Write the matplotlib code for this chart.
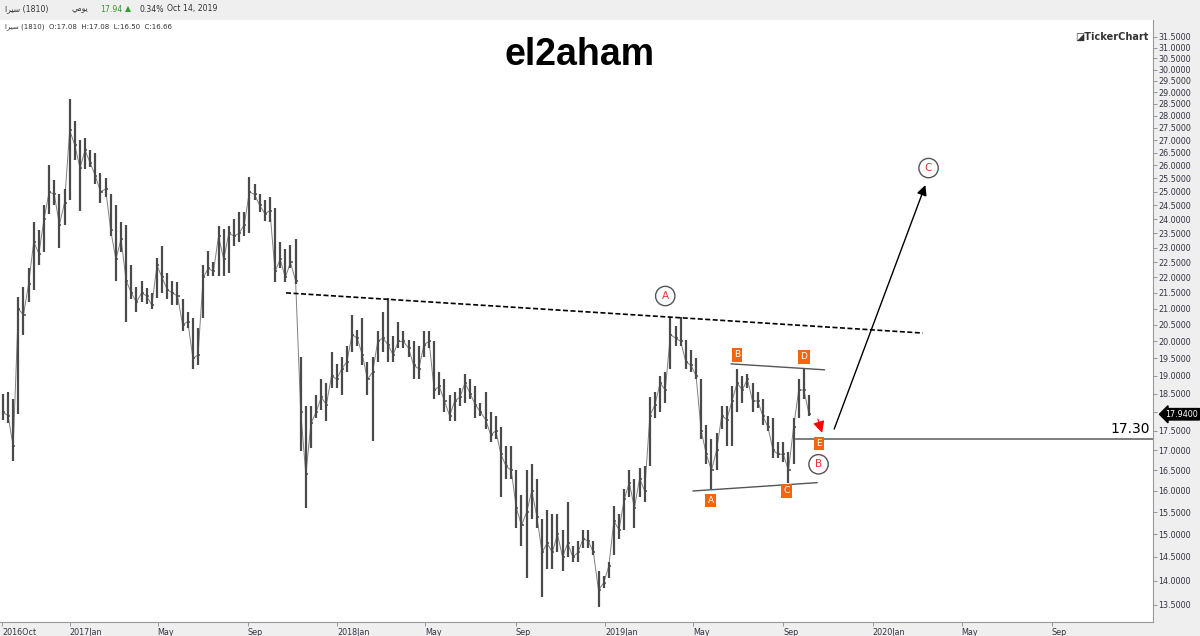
#!/usr/bin/env python3
# el2aham - weekly OHLC bars with wave annotations (TickerChart style)

import numpy as np
import pandas as pd
import matplotlib
matplotlib.use('Agg')
import matplotlib.pyplot as plt
import matplotlib.dates as mdates
from matplotlib.ticker import FixedLocator, NullLocator, FuncFormatter

# ---------------------------------------------------------------------------
# Data (weekly bars)
# ---------------------------------------------------------------------------
first_week = '2016-10-02'

high = [18.5, 18.55, 18.36, 21.36, 21.7, 22.3, 23.9, 23.6, 24.5, 26.0,
        25.45, 24.9, 25.1, 28.7, 27.8, 27.0, 27.1, 26.6, 26.5, 25.7,
        25.5, 24.9, 24.5, 23.9, 23.8, 22.4, 21.7, 21.9, 21.65, 21.5,
        22.65, 23.05, 22.15, 21.9, 21.85, 21.3, 20.9, 20.7, 20.4, 22.4,
        22.9, 22.5, 23.75, 23.65, 23.75, 24.0, 24.25, 24.25, 25.55, 25.3,
        24.9, 24.7, 24.8, 24.4, 23.2, 22.95, 23.1, 23.3, 19.55, 18.15,
        18.15, 18.45, 18.9, 18.8, 19.7, 19.35, 19.55, 19.85, 20.8, 20.35,
        20.7, 19.4, 19.55, 20.3, 20.9, 21.35, 20.15, 20.6, 20.3, 20.05,
        20.0, 19.85, 20.3, 20.3, 20.0, 19.1, 18.9, 18.45, 18.55, 18.65,
        19.05, 18.9, 18.7, 18.25, 18.55, 18.0, 17.9, 17.6, 17.1, 17.1,
        16.5, 15.9, 16.5, 16.65, 16.3, 15.35, 15.55, 15.45, 15.45, 15.1,
        15.75, 14.75, 14.85, 15.1, 15.1, 14.85, 14.2, 14.1, 14.4, 15.65,
        15.45, 16.05, 16.5, 16.3, 16.55, 16.6, 18.4, 18.55, 19.0, 19.1,
        20.75, 20.45, 20.75, 20.05, 19.75, 19.5, 18.9, 17.65, 17.3, 17.45,
        18.15, 18.15, 18.7, 19.2, 19.0, 19.05, 18.8, 18.55, 18.35, 17.9,
        17.85, 17.2, 17.2, 16.95, 17.85, 18.9, 19.2, 18.45]

low = [17.8, 17.7, 16.73, 17.96, 20.2, 21.2, 21.6, 22.4, 22.85, 24.2,
       24.5, 23.0, 23.8, 24.7, 26.2, 24.3, 25.85, 25.95, 25.3, 24.6,
       24.8, 23.4, 21.9, 22.85, 20.6, 21.3, 20.9, 21.2, 21.15, 21.0,
       21.35, 21.5, 21.3, 21.1, 21.1, 20.3, 20.4, 19.2, 19.3, 20.7,
       22.05, 22.05, 22.05, 22.05, 22.15, 23.05, 23.2, 23.4, 23.5, 24.7,
       24.25, 23.95, 23.9, 21.85, 22.3, 21.85, 22.3, 21.8, 16.98, 15.6,
       17.05, 17.85, 18.05, 17.75, 18.65, 18.65, 18.45, 19.1, 19.7, 19.85,
       19.3, 18.45, 17.25, 19.4, 19.7, 19.4, 19.4, 19.8, 19.8, 19.55,
       18.9, 18.9, 19.55, 19.8, 18.35, 18.45, 18.0, 17.75, 17.75, 18.15,
       18.25, 18.35, 17.85, 17.9, 17.55, 17.2, 17.3, 15.85, 16.3, 16.3,
       15.15, 14.75, 14.05, 15.35, 15.15, 13.65, 14.25, 14.25, 14.6, 14.2,
       14.5, 14.4, 14.4, 14.7, 14.7, 14.55, 13.45, 13.85, 14.05, 14.55,
       14.9, 15.1, 15.85, 15.15, 15.85, 15.75, 16.6, 17.85, 18.0, 18.25,
       19.2, 19.85, 19.85, 19.2, 19.1, 18.9, 17.3, 16.65, 16.05, 16.5,
       17.55, 17.1, 17.1, 18.0, 18.25, 18.65, 18.0, 18.1, 17.65, 17.5,
       16.8, 16.8, 16.7, 16.2, 16.65, 17.85, 18.35, 17.9]

close = [18.0, 17.9, 17.1, 21.0, 20.8, 21.8, 23.2, 22.8, 24.0, 25.0,
         24.9, 23.8, 24.6, 27.4, 26.8, 25.9, 26.6, 26.1, 25.6, 25.0,
         25.1, 23.6, 22.6, 23.3, 21.9, 21.5, 21.2, 21.5, 21.4, 21.1,
         22.4, 22.0, 21.6, 21.5, 21.4, 20.5, 20.6, 19.5, 19.6, 22.0,
         22.3, 22.2, 23.4, 22.6, 23.5, 23.4, 23.5, 23.8, 25.0, 24.9,
         24.5, 24.2, 24.3, 22.2, 22.6, 22.0, 22.5, 21.9, 18.0, 16.4,
         17.7, 18.0, 18.4, 18.2, 19.0, 18.9, 19.2, 19.4, 20.2, 20.1,
         19.6, 18.9, 19.1, 20.0, 20.1, 19.9, 19.6, 20.0, 20.0, 19.8,
         19.3, 19.2, 19.9, 20.0, 18.6, 18.7, 18.3, 17.9, 18.3, 18.4,
         18.8, 18.5, 18.2, 18.0, 17.8, 17.4, 17.5, 16.9, 16.6, 16.5,
         15.6, 15.2, 15.5, 16.0, 15.4, 14.6, 14.8, 14.6, 15.0, 14.5,
         14.8, 14.5, 14.6, 14.9, 14.85, 14.6, 13.8, 13.95, 14.3, 15.3,
         15.1, 15.8, 16.2, 15.6, 16.3, 16.0, 17.9, 18.2, 18.8, 18.6,
         20.2, 20.1, 20.0, 19.4, 19.3, 19.0, 17.5, 16.9, 16.5, 17.0,
         17.9, 17.8, 18.3, 18.8, 18.6, 18.9, 18.3, 18.3, 17.9, 17.6,
         17.0, 16.9, 16.9, 16.5, 17.6, 18.6, 18.6, 17.94]

last_price = 17.94
support_level = 17.30

tick_dates = ['2016-10-01', '2017-01-01', '2017-05-01', '2017-09-01',
              '2018-01-01', '2018-05-01', '2018-09-01', '2019-01-01',
              '2019-05-01', '2019-09-01', '2020-01-01', '2020-05-01',
              '2020-09-01']
tick_labels = ['2016Oct', '2017Jan', 'May', 'Sep', '2018Jan', 'May', 'Sep',
               '2019Jan', 'May', 'Sep', '2020Jan', 'May', 'Sep']

# resistance (dashed) and triangle lines: (date, price) end points
resistance = [('2017-10-23', 21.5), ('2020-03-09', 20.25)]
tri_upper = [('2019-06-22', 19.34), ('2019-10-27', 19.17)]
tri_lower = [('2019-05-01', 16.0), ('2019-10-17', 16.2)]

# small orange triangle wave labels
tri_labels = ['A', 'B', 'C', 'D', 'E']
tri_label_dates = ['2019-05-25', '2019-06-30', '2019-09-05', '2019-09-29', '2019-10-20']
tri_label_prices = [15.78, 19.6, 16.0, 19.54, 17.17]

# circled waves
wave_labels = ['A', 'B', 'C']
wave_dates = ['2019-03-24', '2019-10-19', '2020-03-17']
wave_prices = [21.4, 16.65, 25.9]

# arrows: start -> end
red_arrow = [('2019-10-17', 17.88), ('2019-10-25', 17.38)]
black_arrow = [('2019-11-08', 17.48), ('2020-03-14', 25.35)]

# ---------------------------------------------------------------------------
W, H = 1200, 636
fig = plt.figure(figsize=(W / 100, H / 100), dpi=100, facecolor='#efefef')
ax = fig.add_axes([0, (H - 622) / H, 1153 / W, (622 - 20) / H])
ax.set_facecolor('white')


def d(s):
    return mdates.date2num(pd.Timestamp(s))


weeks = mdates.date2num(pd.date_range(first_week, periods=len(high), freq='7D'))

bar_color = '#4a4a4a'
ax.vlines(weeks, low, high, color=bar_color, lw=1.6)
ax.hlines(close, weeks, weeks + 2.8, color=bar_color, lw=1.1)
ax.plot(weeks, close, color=bar_color, lw=0.7, alpha=0.7)

# resistance line
ax.plot([d(p[0]) for p in resistance], [p[1] for p in resistance],
        color='black', ls=(0, (3, 1.5)), lw=1.2)

# triangle boundaries
for seg in (tri_upper, tri_lower):
    ax.plot([d(p[0]) for p in seg], [p[1] for p in seg], color='#555555', lw=1.0)

# 17.30 level
ax.plot([d('2019-09-18'), d('2021-01-17')], [support_level, support_level],
        color='#666666', lw=1.2)
ax.text(0.997, support_level * 1.004, f'{support_level:.2f}', transform=ax.get_yaxis_transform(),
        ha='right', va='bottom', fontsize=10, color='black')

# arrows
ax.annotate('', xy=(d(red_arrow[1][0]), red_arrow[1][1]),
            xytext=(d(red_arrow[0][0]), red_arrow[0][1]),
            arrowprops=dict(arrowstyle='-|>,head_length=0.7,head_width=0.35',
                            color='red', lw=0.8))
ax.annotate('', xy=(d(black_arrow[1][0]), black_arrow[1][1]),
            xytext=(d(black_arrow[0][0]), black_arrow[0][1]),
            arrowprops=dict(arrowstyle='-|>,head_length=0.6,head_width=0.3',
                            color='black', lw=1.0))

# orange triangle labels
for lab, dt, pr in zip(tri_labels, tri_label_dates, tri_label_prices):
    ax.text(d(dt), pr, lab, ha='center', va='center', color='white', fontsize=6.5,
            bbox=dict(boxstyle='square,pad=0.25', fc='#f5650f', ec='none'))

# circled wave labels
for lab, dt, pr in zip(wave_labels, wave_dates, wave_prices):
    ax.text(d(dt), pr, lab, ha='center', va='center', color='#e8343a', fontsize=7.5,
            bbox=dict(boxstyle='circle,pad=0.45', fc='white', ec='#555555', lw=1.0))

# last price marker on the axis (it covers the 18.0000 label, as in the platform)
ax.annotate(f'{last_price:.4f}', xy=(1.0, last_price), xycoords=ax.get_yaxis_transform(),
            xytext=(9, 0), textcoords='offset points', ha='left', va='center',
            color='white', fontsize=5.8,
            bbox=dict(boxstyle='larrow,pad=0.15', fc='black', ec='black'),
            annotation_clip=False)

# axes formatting
ax.set_yscale('log')
ax.set_ylim(13.16, 32.3)
ax.set_xlim(d('2016-09-28'), d('2021-01-17'))
ax.yaxis.tick_right()
ax.yaxis.set_major_locator(FixedLocator(np.arange(13.5, 31.51, 0.5)))
ax.yaxis.set_minor_locator(NullLocator())
ax.yaxis.set_major_formatter(
    FuncFormatter(lambda v, pos: '' if abs(v - last_price) < 0.1 else f'{v:.4f}'))
ax.tick_params(axis='y', labelsize=5.8, length=3, width=0.6, color='#888888',
               labelcolor='#333344', pad=1)

ax.set_xticks([d(t) for t in tick_dates])
ax.set_xticklabels(tick_labels)
ax.tick_params(axis='x', labelsize=5.8, length=3, width=0.6, color='#888888',
               labelcolor='#333344', pad=1)
for lbl in ax.get_xticklabels():
    lbl.set_ha('left')

for side in ('top', 'left'):
    ax.spines[side].set_visible(False)
for side in ('bottom', 'right'):
    ax.spines[side].set_color('#999999')
    ax.spines[side].set_linewidth(0.8)

# header
sira = '\uFE8D\uFEAE\uFEF4\uFEB3'
yawmi = '\uFEF2\uFEE3\uFEEE\uFEF3'
hy = 1 - 9 / H
fig.text(5 / W, hy, f'{sira} (1810)', fontsize=5.6, color='#333333', va='center')
fig.text(72 / W, hy, yawmi, fontsize=5.6, color='#333333', va='center')
fig.text(100 / W, hy, '17.94', fontsize=5.6, color='#2e9e2e', va='center')
fig.text(125 / W, hy, '\u25B2', fontsize=5.6, color='#2e9e2e', va='center')
fig.text(139 / W, hy, '0.34%', fontsize=5.6, color='#333333', va='center')
fig.text(167 / W, hy, 'Oct 14, 2019', fontsize=5.6, color='#333333', va='center')
fig.text(5 / W, 1 - 27 / H, f'{sira} (1810)  O:17.08  H:17.08  L:16.50  C:16.66',
         fontsize=5, color='#333333', va='center')

fig.text(580 / W, 1 - 55 / H, 'el2aham', fontsize=27, fontweight='bold',
         family='Liberation Sans', ha='center', va='center', color='black')
fig.text(1148 / W, 1 - 37 / H, '\u25EATickerChart', fontsize=7, fontweight='bold',
         ha='right', va='center', color='#333333')

fig.savefig('out.png', dpi=100, facecolor=fig.get_facecolor())
plt.close()
